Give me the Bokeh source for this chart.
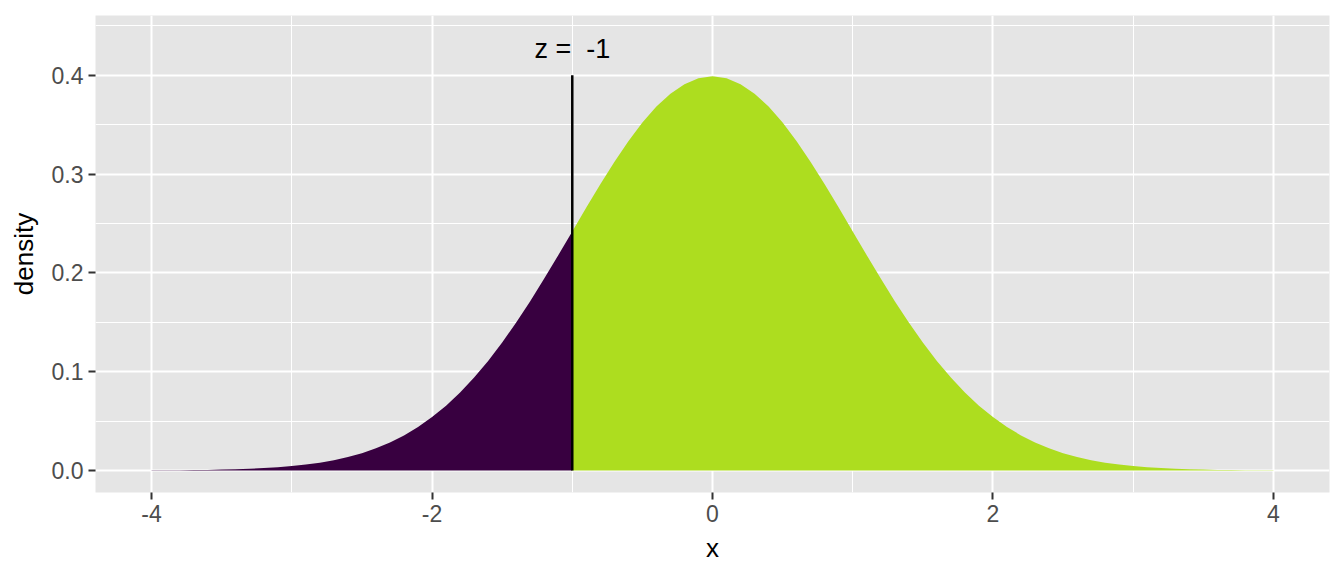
from bokeh.plotting import figure
from bokeh.models import FixedTicker, Range1d, Label
from bokeh.embed import file_html
from bokeh.resources import INLINE

# ---- data ----
x_vals = [round(-4 + 0.1 * i, 1) for i in range(81)]
density = [
    0.0001, 0.0002, 0.0003, 0.0004, 0.0006, 0.0009, 0.0012, 0.0017, 0.0024, 0.0033,
    0.0044, 0.0060, 0.0079, 0.0104, 0.0136, 0.0175, 0.0224, 0.0283, 0.0355, 0.0440,
    0.0540, 0.0656, 0.0790, 0.0940, 0.1109, 0.1295, 0.1497, 0.1714, 0.1942, 0.2179,
    0.2420, 0.2661, 0.2897, 0.3123, 0.3332, 0.3521, 0.3683, 0.3814, 0.3910, 0.3970,
    0.3989,
    0.3970, 0.3910, 0.3814, 0.3683, 0.3521, 0.3332, 0.3123, 0.2897, 0.2661, 0.2420,
    0.2179, 0.1942, 0.1714, 0.1497, 0.1295, 0.1109, 0.0940, 0.0790, 0.0656, 0.0540,
    0.0440, 0.0355, 0.0283, 0.0224, 0.0175, 0.0136, 0.0104, 0.0079, 0.0060, 0.0044,
    0.0033, 0.0024, 0.0017, 0.0012, 0.0009, 0.0006, 0.0004, 0.0003, 0.0002, 0.0001,
]
z_value = -1
z_line_top = 0.4
label_text = "z =\u00a0 -1"
label_y = 0.427
x_ticks = [-4, -2, 0, 2, 4]
x_minor = [-3, -1, 1, 3]
y_ticks = [0.0, 0.1, 0.2, 0.3, 0.4]
y_minor = [0.05, 0.15, 0.25, 0.35, 0.45]
y_tick_labels = {0.0: "0.0", 0.1: "0.1", 0.2: "0.2", 0.3: "0.3", 0.4: "0.4"}
x_tick_labels = {-4: "-4", -2: "-2", 0: "0", 2: "2", 4: "4"}
color_low = "#380040"
color_high = "#addd1f"

FONT = "Liberation Sans"

p = figure(width=1344, height=576, output_backend="svg", toolbar_location=None,
           x_range=Range1d(-4.4, 4.4), y_range=Range1d(-0.0223, 0.4605),
           min_border_left=95, min_border_right=15, min_border_top=15, min_border_bottom=84)
p.outline_line_color = None
p.background_fill_color = "#e5e5e5"
p.border_fill_color = "white"

left_x = [x for x in x_vals if x <= z_value]
left_y = [d for x, d in zip(x_vals, density) if x <= z_value]
right_x = [x for x in x_vals if x >= z_value]
right_y = [d for x, d in zip(x_vals, density) if x >= z_value]

p.varea(x=left_x, y1=[0] * len(left_x), y2=left_y, fill_color=color_low)
p.varea(x=right_x, y1=[0] * len(right_x), y2=right_y, fill_color=color_high)
p.segment(x0=[z_value], y0=[0], x1=[z_value], y1=[z_line_top], line_color="black", line_width=2.5)

p.add_layout(Label(x=z_value, y=label_y, text=label_text, text_align="center",
                   text_baseline="middle", text_font=FONT, text_font_size="27px",
                   text_color="black"))

p.xaxis.ticker = FixedTicker(ticks=x_ticks, minor_ticks=x_minor)
p.yaxis.ticker = FixedTicker(ticks=y_ticks, minor_ticks=y_minor)
p.xaxis.major_label_overrides = x_tick_labels
p.yaxis.major_label_overrides = y_tick_labels

for g in (p.xgrid, p.ygrid):
    g.grid_line_color = "white"
    g.grid_line_width = 2
    g.minor_grid_line_color = "white"
    g.minor_grid_line_width = 1

for ax in (p.xaxis, p.yaxis):
    ax.axis_line_color = None
    ax.major_tick_line_color = "#333333"
    ax.major_tick_line_width = 2
    ax.major_tick_in = 0
    ax.major_tick_out = 7
    ax.minor_tick_line_color = None
    ax.major_label_text_font = FONT
    ax.major_label_text_font_size = "23px"
    ax.major_label_text_color = "#4d4d4d"
    ax.axis_label_text_font = FONT
    ax.axis_label_text_font_size = "26px"
    ax.axis_label_text_font_style = "normal"
    ax.axis_label_text_color = "black"
    ax.major_label_standoff = 5

p.xaxis.axis_label = "x"
p.yaxis.axis_label = "density"
p.xaxis.axis_label_standoff = 8
p.yaxis.axis_label_standoff = 10

open("out.html", "w").write(file_html(p, INLINE))
